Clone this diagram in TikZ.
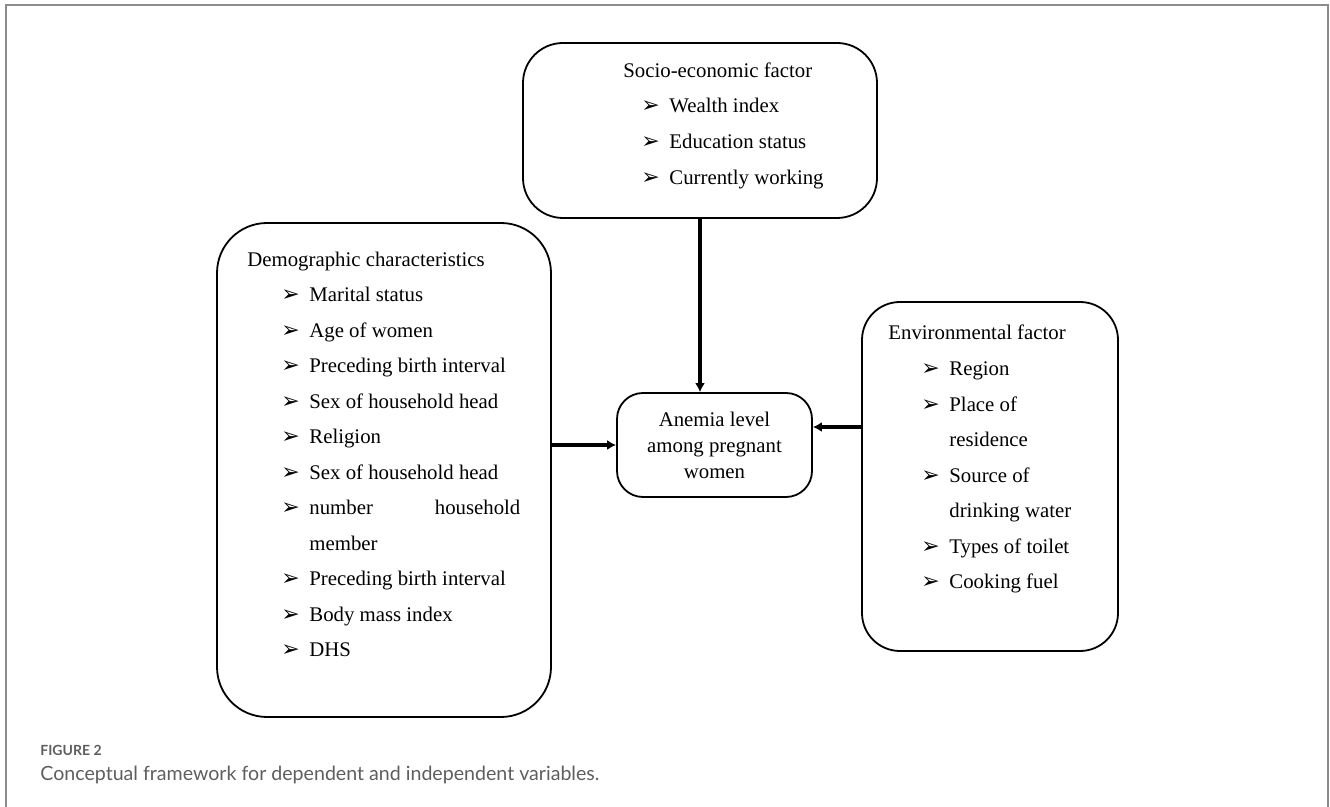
\documentclass[tikz,border=0pt]{standalone}
\usepackage{fontspec}
\setmainfont{Liberation Serif}
\newfontfamily\bulletfont{DejaVu Sans}
\newfontfamily\captionfont{Lato}
\usetikzlibrary{arrows.meta}

\definecolor{framegray}{HTML}{8C8C8C}
\definecolor{captiongray}{HTML}{5E5E5E}

\newcommand{\arrowbullet}{\makebox[14pt][l]{\bulletfont\fontsize{11}{12}\selectfont ➢}}

\tikzset{
    factor/.style = {draw, line width = 0.9pt, inner sep = 0pt},
    txt/.style = {anchor = base west, inner sep = 0pt, font = \fontsize{10.4}{12.5}\selectfont},
    captext/.style = {anchor = base west, inner sep = 0pt, text = captiongray},
    arr/.style = {->, line width = 2pt}
}

\begin{document}
\begin{tikzpicture}[> = {Latex[length = 4.5pt, width = 5pt]}, x = 0.5pt, y = -0.5pt]

        % Fix the page to the size of the figure.
        \useasboundingbox (0, 0) rectangle (1330, 807);

        % Frame round the figure, open at the bottom.
        \draw[draw = framegray, line width = 1pt] (6, 807) -- (6, 5) -- (1328, 5) -- (1328, 807);

        % The four boxes.
        \node[factor, rounded corners = 20pt, minimum width = 177pt, minimum height = 87.5pt] (socio) at (700, 130.5) {};
        \node[factor, rounded corners = 25pt, minimum width = 167pt, minimum height = 247pt] (demo) at (384, 470) {};
        \node[factor, rounded corners = 19pt, minimum width = 128pt, minimum height = 174.5pt] (env) at (990, 476.5) {};
        \node[factor, rounded corners = 13pt, minimum width = 97.5pt, minimum height = 52pt,
              align = center, font = \fontsize{10.4}{13}\selectfont] (anemia) at (714.5, 445)
              {Anemia level\\among pregnant\\women};

        % Socio-economic factor.
        \node[txt] (socioTitle) at (623, 78) {Socio-economic factor};
        \node[txt] (wealth) at (641, 113) {\arrowbullet Wealth index};
        \node[txt] (education) at (641, 149) {\arrowbullet Education status};
        \node[txt] (working) at (641, 185) {\arrowbullet Currently working};

        % Demographic characteristics.
        \node[txt] (demoTitle) at (247, 267) {Demographic characteristics};
        \node[txt] (marital) at (281, 302) {\arrowbullet Marital status};
        \node[txt] (age) at (281, 337.5) {\arrowbullet Age of women};
        \node[txt] (birthA) at (281, 373) {\arrowbullet Preceding birth interval};
        \node[txt] (headA) at (281, 408.5) {\arrowbullet Sex of household head};
        \node[txt] (religion) at (281, 444) {\arrowbullet Religion};
        \node[txt] (headB) at (281, 479.5) {\arrowbullet Sex of household head};
        \node[txt] (members) at (281, 515) {\arrowbullet\makebox[105.5pt][s]{number household}};
        \node[txt] (membersWrap) at (309, 550.5) {member};
        \node[txt] (birthB) at (281, 586) {\arrowbullet Preceding birth interval};
        \node[txt] (bmi) at (281, 621.5) {\arrowbullet Body mass index};
        \node[txt] (dhs) at (281, 657) {\arrowbullet DHS};

        % Environmental factor.
        \node[txt] (envTitle) at (888, 340) {Environmental factor};
        \node[txt] (region) at (921, 376) {\arrowbullet Region};
        \node[txt] (place) at (921, 411.5) {\arrowbullet Place of};
        \node[txt] (placeWrap) at (949, 447) {residence};
        \node[txt] (water) at (921, 482.5) {\arrowbullet Source of};
        \node[txt] (waterWrap) at (949, 518) {drinking water};
        \node[txt] (toilet) at (921, 553.5) {\arrowbullet Types of toilet};
        \node[txt] (fuel) at (921, 589) {\arrowbullet Cooking fuel};

        % Arrows into the outcome box.
        \coordinate (envIn) at ([yshift = 9pt]anemia.east);
        \draw[arr] (socio.south) -- (socio.south |- anemia.north);
        \draw[arr] (demo.east |- anemia.west) -- (anemia.west);
        \draw[arr] (env.west |- envIn) -- (envIn);

        % Caption.
        \node[captext, font = \captionfont\bfseries\fontsize{7}{8}\selectfont] (figLabel) at (40, 756) {FIGURE 2};
        \node[captext, font = \captionfont\fontsize{9.8}{11}\selectfont] (caption) at (40, 781)
              {Conceptual framework for dependent and independent variables.};
    \end{tikzpicture}
\end{document}
